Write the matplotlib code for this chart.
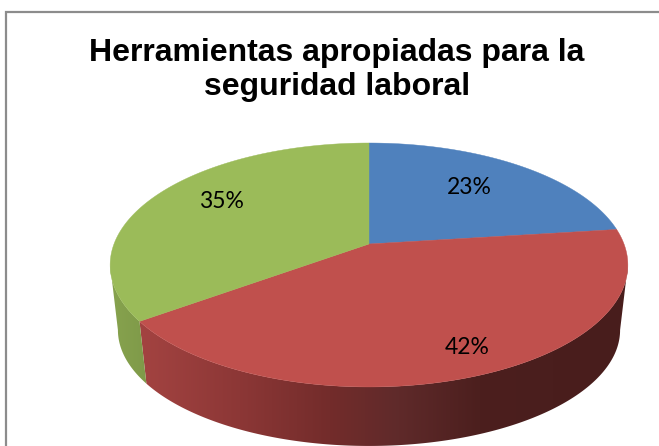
import numpy as np
import matplotlib
matplotlib.use('Agg')
import matplotlib.pyplot as plt
from matplotlib.colors import to_rgb
from matplotlib.patches import Polygon

title_lines = ['Herramientas apropiadas para la', 'seguridad laboral']
values = [23, 42, 35]
colors = ['#4f81bd', '#c0504d', '#9bbb59']
label_pos = [(469, 187), (467, 347), (221, 202)]

# wall shading, left to right
wall_x = [[369, 628], [142, 240, 330, 400, 480, 628], [110, 147]]
wall_colors = [['#2a4a70', '#2a4a70'],
               ['#a34341', '#8c3736', '#732c2b', '#5f2a2a', '#4c1f1e', '#481d1c'],
               ['#87a34e', '#7f9a49']]

# pie geometry on the 659x446 canvas
cx, k, R = 369, 0.172, 255
a, b = -76.4, 244
top_cy, top_ry = 265, 122
bot_cy, bot_ry = 330, 116
bot_scale = 0.97


def top_edge(angle):
    # angle in degrees, clockwise from 12 o'clock, with perspective
    t = np.radians(angle)
    u, v = np.sin(t), np.cos(t)
    w = 1 + k * v
    return cx + R * u / w, (a * v + b) / w


def bottom_edge(angle):
    x, y = top_edge(angle)
    return cx + (x - cx) * bot_scale, bot_cy + (y - top_cy) * bot_ry / top_ry


fig = plt.figure(figsize=(6.59, 4.46), dpi=100)
ax = fig.add_axes([0, 0, 1, 1])
ax.axis('off')

# chart frame: only left and top show in the crop
ax.plot([6, 6, 659], [446, 12, 12], color='#8c8c8c', lw=1.6, solid_joinstyle='miter')

edges = np.cumsum([0] + values) / sum(values) * 360
wall_from, wall_to = 99.9, 260.1

#####
# Side walls

for i in range(len(values)):
    start = max(edges[i], wall_from)
    end = min(edges[i + 1], wall_to)
    if start >= end:
        continue
    angles = np.linspace(start, end, 300)
    xt, yt = top_edge(angles)
    xb, yb = bottom_edge(angles)
    outline = np.c_[np.r_[xt, xb[::-1]], np.r_[yt, yb[::-1]]]

    rgb = np.array([to_rgb(c) for c in wall_colors[i]])
    columns = np.arange(outline[:, 0].min() - 1, outline[:, 0].max() + 2)
    strip = np.stack([np.interp(columns, wall_x[i], rgb[:, c]) for c in range(3)], axis=-1)[None, :, :]
    image = ax.imshow(strip, extent=[columns[0], columns[-1], outline[:, 1].max() + 1, outline[:, 1].min() - 1],
                      aspect='auto', interpolation='bilinear')
    patch = Polygon(outline, closed=True, transform=ax.transData, fc='none', ec='none')
    ax.add_patch(patch)
    image.set_clip_path(patch)

#####
# Top surface

for i, color in enumerate(colors):
    xs, ys = top_edge(np.linspace(edges[i], edges[i + 1], 300))
    ax.fill(np.r_[cx, xs], np.r_[b, ys], color=color, lw=0.3)

for value, (x, y) in zip(values, label_pos):
    ax.text(x, y, f'{value}%', ha='center', va='center', fontsize=16.5, family='Lato', color='black')

for line, y in zip(title_lines, [53, 87]):
    ax.text(337, y, line, ha='center', va='center', fontsize=23, family='Liberation Sans',
            fontweight='bold', color='black')

ax.set_xlim(0, 659)
ax.set_ylim(446, 0)

fig.savefig('out.png', dpi=100)
